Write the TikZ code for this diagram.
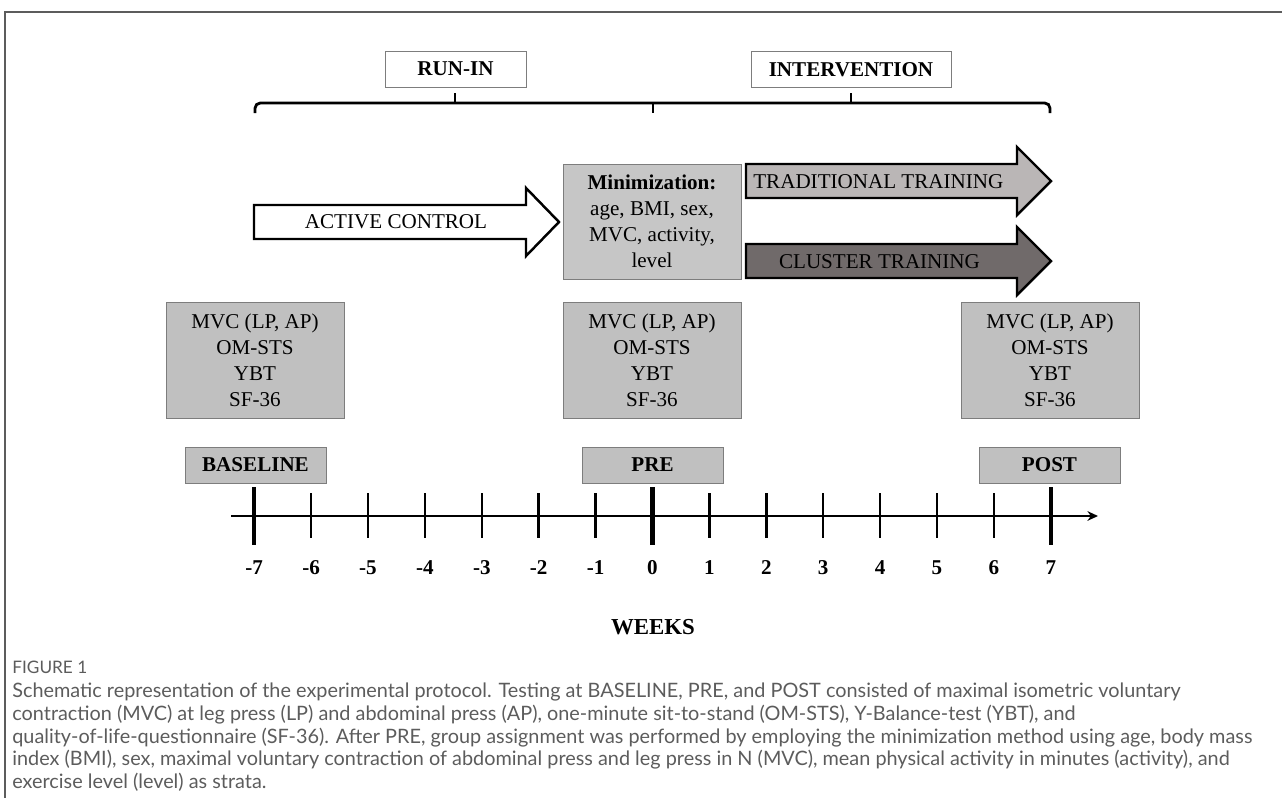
\documentclass[tikz,border=0pt]{standalone}
\usepackage{fontspec}
\setmainfont{Liberation Serif}
\newfontfamily\capfont{Lato}
\usetikzlibrary{arrows.meta,positioning}
\definecolor{boxgray}{RGB}{192,192,192}
\definecolor{edgegray}{RGB}{125,125,125}
\definecolor{tradgray}{RGB}{186,182,182}
\definecolor{clustgray}{RGB}{112,106,106}
\definecolor{capgray}{RGB}{92,92,92}
\tikzset{
    %Define standard arrow tip
    >={Stealth[length=6pt,width=5.5pt]},
    %Define style for boxes
    phasebox/.style={
           rectangle,
           draw=edgegray,
           fill=white,
           minimum width=2.82cm,
           minimum height=0.72cm,
           font=\fontsize{12}{14}\selectfont\bfseries},
    testbox/.style={
           rectangle,
           draw=edgegray,
           fill=boxgray,
           minimum width=3.56cm,
           minimum height=2.32cm,
           align=center,
           font=\fontsize{12}{14.8}\selectfont},
    timebox/.style={
           rectangle,
           draw=edgegray,
           fill=boxgray,
           minimum width=2.82cm,
           minimum height=0.72cm,
           font=\fontsize{12}{14}\selectfont\bfseries},
    % Define style for block arrows
    blockarrow/.style={
           draw=black,
           line width=1.4pt,
           line join=miter},
    armtext/.style={
           inner sep=0pt,
           font=\fontsize{12}{14}\selectfont},
    % Define style for axis
    brace/.style={
           line width=1.6pt,
           rounded corners=3pt},
    axisline/.style={
           ->,
           line width=1.6pt},
    minortick/.style={line width=1.4pt},
    majortick/.style={line width=2.4pt},
    weeklabel/.style={font=\fontsize{12}{14}\selectfont\bfseries},
    frameline/.style={draw=capgray, line width=0.9pt}
}
\begin{document}
\begin{tikzpicture}[x=0.02cm, y=-0.02cm]
 \useasboundingbox (0,0) rectangle (1282,798);
 \draw[frameline] (5,798) |- (1282,12);

 % phases
 \node [phasebox] (runin) at (455.5,69) {RUN-IN};
 \node [phasebox, minimum width=4cm] (interv) at (851,69.5) {INTERVENTION};
 \draw [brace] (255,113) |- (1050,103) -- (1050,113);
 \draw [brace] (653,103) -- (653,113);
 \draw [brace] (455,103) -- (455,93);
 \draw [brace] (851,103) -- (851,93);

 % arms
 \draw [blockarrow, fill=white] (254,205) -- (526,205) -- (526,188) -- (559,222)
   -- (526,256) -- (526,239) -- (254,239) -- cycle;
 \node [armtext] (active) at (396,222) {ACTIVE CONTROL};
 \node [testbox, minimum height=2.3cm, fill=boxgray!90!white,
        font=\fontsize{12}{14.9}\selectfont] (minim) at (652,221.5)
   {\textbf{Minimization:}\\age, BMI, sex,\\MVC, activity,\\level};
 \draw [blockarrow, fill=tradgray] (746,164) -- (1017,164) -- (1017,147) -- (1051,181)
   -- (1017,215) -- (1017,198) -- (746,198) -- cycle;
 \node [armtext, anchor=west] (trad) at (753,182) {TRADITIONAL TRAINING};
 \draw [blockarrow, fill=clustgray] (746,244) -- (1017,244) -- (1017,227) -- (1051,261)
   -- (1017,295) -- (1017,278) -- (746,278) -- cycle;
 \node [armtext] (cluster) at (879.5,262) {CLUSTER TRAINING};

 % testing
 \node [testbox] (mvcbase) at (255,360) {MVC (LP, AP)\\OM-STS\\YBT\\SF-36};
 \node [testbox] (mvcpre) at (652,360) {MVC (LP, AP)\\OM-STS\\YBT\\SF-36};
 \node [testbox] (mvcpost) at (1050,360) {MVC (LP, AP)\\OM-STS\\YBT\\SF-36};
 \node [timebox] (baseline) at (255.5,465) {BASELINE};
 \node [timebox] (pre) at (652.5,465) {PRE};
 \node [timebox] (post) at (1049.5,465) {POST};

 % time axis
 \coordinate (axisstart) at (231,516);
 \coordinate (axisend) at (1098,516);
 \draw [axisline] (axisstart) -- (axisend);
 \foreach \k in {-6,...,-1,1,2,...,6}
   \draw [minortick] ({652.5+56.9*\k},493) -- ({652.5+56.9*\k},538);
 \foreach \k in {-7,0,7}
   \draw [majortick] ({652.5+56.9*\k},487) -- ({652.5+56.9*\k},545);
 \foreach \k in {-7,...,7}
   \node [weeklabel] (wk\k) at ({652.5+56.9*\k},568) {\k};
 \node [font=\fontsize{13}{15}\selectfont\bfseries] (weeks) at (653,627) {WEEKS};

 % caption
 \node [anchor=west, inner sep=0pt, text=capgray,
        font=\capfont\fontsize{9.8}{11}\selectfont] (figlabel) at (12,667) {FIGURE 1};
 \node [anchor=north west, inner sep=0pt, align=left, text=capgray,
        font=\capfont\fontsize{11.3}{12.9}\selectfont] (caption) at (12,683)
   {Schematic representation of the experimental protocol. Testing at BASELINE, PRE, and POST consisted of maximal isometric voluntary\\
    contraction (MVC) at leg press (LP) and abdominal press (AP), one-minute sit-to-stand (OM-STS), Y-Balance-test (YBT), and\\
    quality-of-life-questionnaire (SF-36). After PRE, group assignment was performed by employing the minimization method using age, body mass\\
    index (BMI), sex, maximal voluntary contraction of abdominal press and leg press in N (MVC), mean physical activity in minutes (activity), and\\
    exercise level (level) as strata.};
\end{tikzpicture}
\end{document}
